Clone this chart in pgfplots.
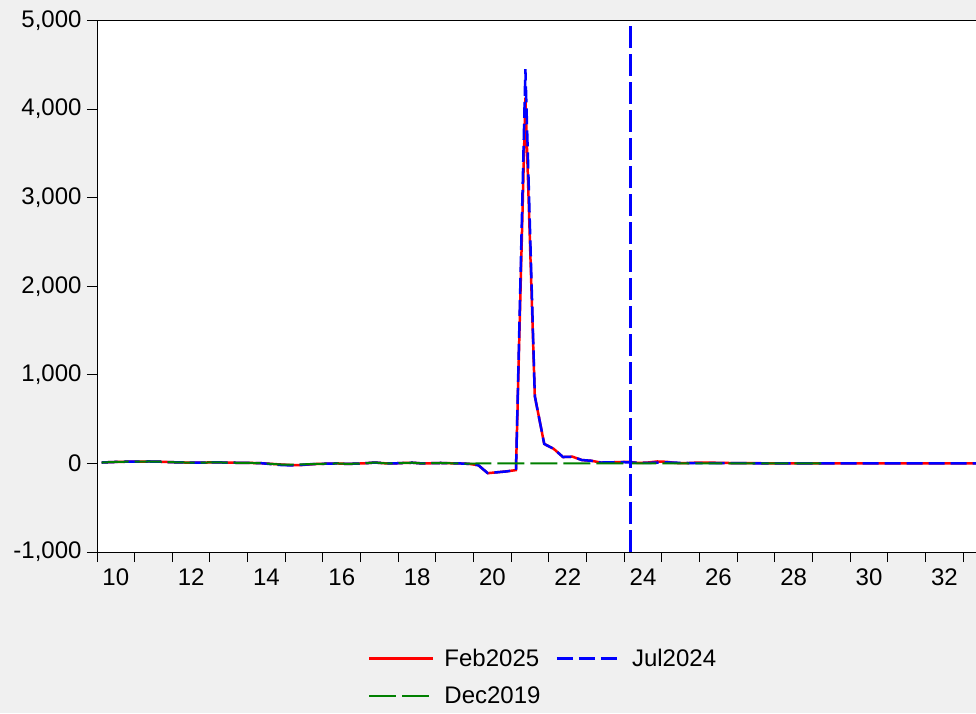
\documentclass[border=0pt]{standalone}
\usepackage{pgfplots}
\usepackage{pgfplotstable}
\pgfplotsset{compat=1.18}
\usepackage{fontspec}
\setmainfont{Liberation Sans}
\definecolor{bggray}{RGB}{240,240,240}
\definecolor{egreen}{RGB}{0,128,0}
\pgfplotstableread{
t r b g
10.125 10 10 10
10.375 15 15 15
10.625 18 18 18
10.875 20 20 20
11.125 20 20 20
11.375 22 22 22
11.625 20 20 20
11.875 16 16 16
12.125 12 12 12
12.375 10 10 10
12.625 8 8 8
12.875 10 10 10
13.125 12 12 12
13.375 10 10 10
13.625 8 8 8
13.875 6 6 6
14.125 5 5 5
14.375 2 2 2
14.625 -5 -8 -5
14.875 -12 -18 -12
15.125 -18 -22 -15
15.375 -20 -18 -12
15.625 -12 -10 -8
15.875 -5 -5 -5
16.125 -3 -3 -3
16.375 0 0 0
16.625 -5 -5 -5
16.875 -3 -3 -3
17.125 2 2 2
17.375 10 10 10
17.625 2 2 2
17.875 0 0 0
18.125 5 5 5
18.375 8 8 8
18.625 0 0 0
18.875 2 2 2
19.125 5 5 5
19.375 2 2 2
19.625 0 0 0
19.875 -5 -5 -3
20.125 -20 -20 0
20.375 -110 -110 0
20.625 -100 -100 0
20.875 -90 -90 0
21.125 -75 -75 0
21.375 4130 4450 0
21.625 760 760 0
21.875 220 220 0
22.125 165 165 0
22.375 72 72 0
22.625 76 76 0
22.875 38 38 0
23.125 30 30 0
23.375 10 10 0
23.625 12 12 0
23.875 15 15 0
24.125 18 12 0
24.375 5 8 0
24.625 10 6 0
24.875 22 10 0
25.125 18 12 0
25.375 5 8 0
25.625 3 5 0
25.875 8 4 0
26.125 10 4 0
26.375 8 3 0
26.625 6 3 0
26.875 4 2 0
27.125 3 2 0
27.375 2 2 0
27.625 2 1 0
27.875 1 1 0
28.125 1 1 0
28.375 1 1 0
28.625 1 1 0
28.875 1 1 0
29.125 1 1 0
29.375 1 1 0
29.625 1 1 nan
29.875 1 1 nan
30.125 1 1 nan
30.375 1 1 nan
30.625 1 1 nan
30.875 1 1 nan
31.125 1 1 nan
31.375 1 1 nan
31.625 1 1 nan
31.875 1 1 nan
32.125 1 1 nan
32.375 1 1 nan
32.625 1 1 nan
32.875 1 1 nan
33.125 1 1 nan
33.375 1 1 nan
}\datatable
\begin{document}
\begin{tikzpicture}
\fill[bggray] (0,0) rectangle (976pt,713pt);
\useasboundingbox (0,0) rectangle (976pt,713pt);
\begin{axis}[
  at={(97pt,161pt)}, anchor=south west,
  width=879pt, height=531.5pt, scale only axis,
  axis background/.style={fill=white},
  xmin=10, xmax=33.34, ymin=-1000, ymax=5000,
  axis x line*=box, axis y line*=left,
  axis line style={black, line width=1pt},
  xtick pos=bottom, ytick pos=left, tick align=outside,
  major tick length=10pt,
  tick style={black, line width=1pt},
  xtick={10,...,33}, xticklabels={},
  extra x ticks={10.5,12.5,...,32.5},
  extra x tick labels={10,12,14,16,18,20,22,24,26,28,30,32},
  extra x tick style={major tick length=0pt, xticklabel style={yshift=-13pt}},
  ytick={-1000,0,...,5000},
  /pgf/number format/assume math mode=true,
  /pgf/number format/1000 sep={,},
  every tick label/.append style={font=\fontsize{24}{28}\selectfont},
  yticklabel style={xshift=-2pt},
  clip=true,
  legend columns=2,
  legend style={at={(0.512,-0.178)}, anchor=north, draw=none, fill=none,
    inner sep=0pt, font=\fontsize{24}{28}\selectfont,
    nodes={inner xsep=10pt},
    /tikz/every even column/.append style={column sep=5pt},
    row sep=15pt},
  legend cell align=left,
  legend image code/.code={\draw[#1] (0pt,0pt) -- (64pt,0pt);},
]
\addplot[red, line width=2.5pt] table[x=t,y=r]{\datatable};
\addlegendentry{Feb2025}
\addplot[blue, line width=2.5pt, dash pattern=on 16pt off 6pt] table[x=t,y=b]{\datatable};
\addlegendentry{Jul2024}
\addplot[egreen, line width=2pt, dash pattern=on 27pt off 6pt] table[x=t,y=g]{\datatable};
\addlegendentry{Dec2019}
\addplot[blue, line width=3pt, dash pattern=on 22pt off 6pt, forget plot] coordinates {(24.17,-1000) (24.17,5000)};
\end{axis}
\end{tikzpicture}
\end{document}
